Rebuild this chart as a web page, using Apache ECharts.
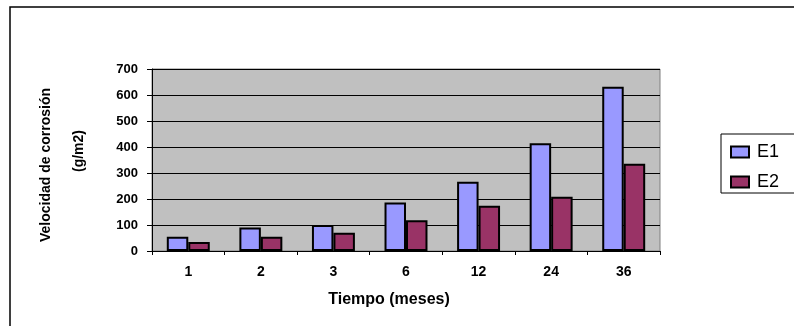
<!DOCTYPE html>
<html>
<head>
<meta charset="utf-8">
<style>
  html, body { margin: 0; padding: 0; background: #fff; }
  #chart { width: 794px; height: 326px; }
</style>
<script src="https://cdn.jsdelivr.net/npm/echarts@6/dist/echarts.min.js"></script>
</head>
<body>
<div id="chart"></div>
<script>
// Corrosion rate per exposure time, two test sites
const categories = ['1', '2', '3', '6', '12', '24', '36'];
const seriesNames = ['E1', 'E2'];
const valuesE1 = [55, 90, 100, 187, 266, 414, 632];
const valuesE2 = [35, 55, 70, 118, 174, 209, 336];
const yTicks = [0, 100, 200, 300, 400, 500, 600, 700];

const xTitle = 'Tiempo (meses)';
const yTitleLine1 = 'Velocidad de corrosión';
const yTitleLine2 = '(g/m2)';

const FONT = 'Arial, "Liberation Sans", sans-serif';

const chart = echarts.init(document.getElementById('chart'), null, { renderer: 'canvas' });

const barStyle = (color) => ({
  color: color,
  borderColor: '#000',
  borderWidth: 2
});

chart.setOption({
  backgroundColor: '#fff',
  animation: false,
  grid: {
    left: 152, right: 134, top: 69, bottom: 75,
    show: true,
    backgroundColor: '#C0C0C0',
    borderColor: '#808080',
    borderWidth: 1
  },
  legend: {
    orient: 'vertical',
    left: 725, top: 138,
    itemWidth: 18, itemHeight: 11,
    itemGap: 12,
    icon: 'rect',
    itemStyle: { borderColor: '#000', borderWidth: 2 },
    textStyle: { fontFamily: FONT, fontSize: 18, color: '#000', padding: [0, 0, 0, 3] },
    data: seriesNames
  },
  xAxis: {
    type: 'category',
    data: categories,
    boundaryGap: true,
    axisLine: { lineStyle: { color: '#000', width: 1 } },
    axisTick: { show: true, length: 4, lineStyle: { color: '#000' } },
    axisLabel: { fontFamily: FONT, fontWeight: 'bold', fontSize: 14, color: '#000', margin: 14 },
    splitLine: { show: false }
  },
  yAxis: {
    type: 'value',
    min: yTicks[0],
    max: yTicks[yTicks.length - 1],
    interval: yTicks[1] - yTicks[0],
    axisLine: { show: true, lineStyle: { color: '#000', width: 1 } },
    axisTick: { show: true, length: 5, lineStyle: { color: '#000' } },
    axisLabel: { fontFamily: FONT, fontWeight: 'bold', fontSize: 13, color: '#000', margin: 14 },
    splitLine: { show: true, lineStyle: { color: '#000', width: 1 } }
  },
  series: [
    {
      name: seriesNames[0], type: 'bar', data: valuesE1,
      barWidth: '29.6%', barGap: '0%',
      itemStyle: barStyle('#9999FF')
    },
    {
      name: seriesNames[1], type: 'bar', data: valuesE2,
      barWidth: '29.6%', barGap: '0%',
      itemStyle: barStyle('#993366')
    }
  ],
  graphic: [
    // outer chart frame
    {
      type: 'rect', silent: true, z: -10,
      shape: { x: 10, y: 7, width: 800, height: 330 },
      style: { fill: 'none', stroke: '#000', lineWidth: 1.5 }
    },
    // legend frame
    {
      type: 'rect', silent: true, z: -5,
      shape: { x: 721, y: 134, width: 90, height: 59 },
      style: { fill: '#fff', stroke: '#000', lineWidth: 1 }
    },
    {
      type: 'text', silent: true,
      x: 389, y: 300,
      style: {
        text: xTitle, fontFamily: FONT, fontWeight: 'bold', fontSize: 16,
        fill: '#000', align: 'center', verticalAlign: 'middle'
      }
    },
    {
      type: 'text', silent: true,
      x: 46, y: 165, rotation: Math.PI / 2,
      style: {
        text: yTitleLine1, fontFamily: FONT, fontWeight: 'bold', fontSize: 14,
        fill: '#000', align: 'center', verticalAlign: 'middle'
      }
    },
    {
      type: 'text', silent: true,
      x: 79, y: 151, rotation: Math.PI / 2,
      style: {
        text: yTitleLine2, fontFamily: FONT, fontWeight: 'bold', fontSize: 14,
        fill: '#000', align: 'center', verticalAlign: 'middle'
      }
    }
  ]
});
</script>
</body>
</html>
